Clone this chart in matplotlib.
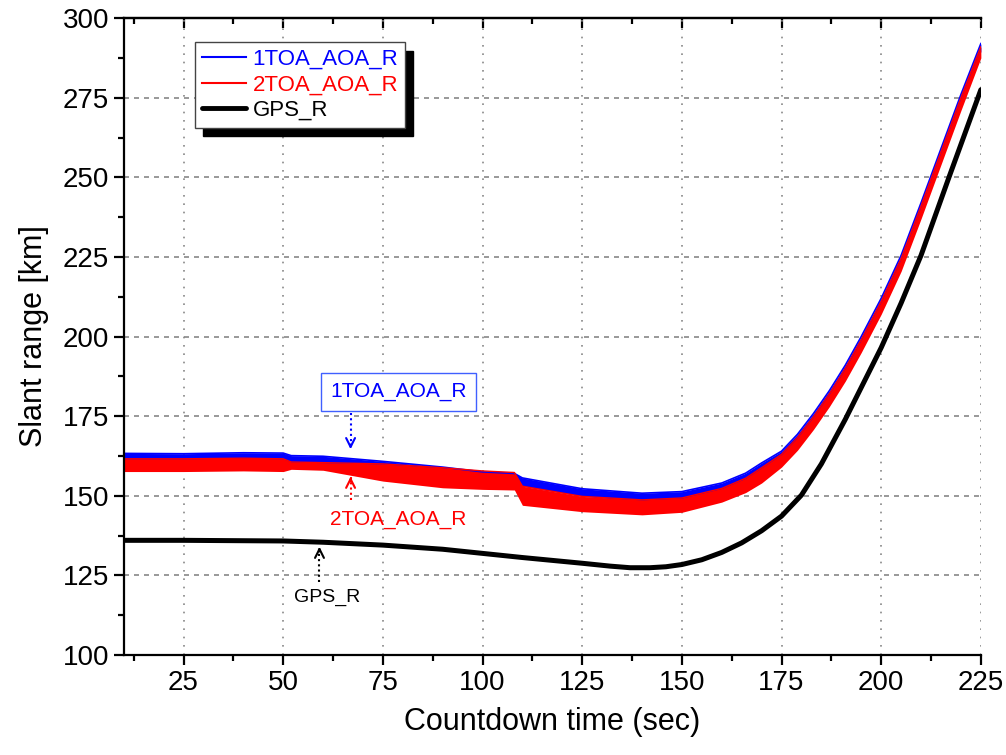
import matplotlib
matplotlib.use("Agg")
import matplotlib.pyplot as plt
from matplotlib.lines import Line2D
from matplotlib.ticker import MultipleLocator

plt.rcParams['font.family'] = ['Liberation Sans', 'DejaVu Sans']

# countdown time samples for the two TOA/AOA estimates
t_toa = [10, 25, 40, 50, 52, 60, 75, 90, 100, 108, 110, 125, 140, 150,
         160, 166, 170, 175, 179, 183, 187, 191, 195, 200, 205, 210, 215, 220, 225]
# 1TOA_AOA_R band (upper / lower edge of the noisy trace)
toa1_hi = [163.3, 163.2, 163.5, 163.4, 162.6, 162.4, 160.8, 159.0, 157.5, 157.0,
           155.6, 152.2, 150.8, 151.3, 154.0, 157.1, 160.3, 164.0, 169.3, 175.8,
           183.0, 191.0, 200.0, 212.0, 225.5, 242.0, 259.0, 276.0, 292.0]
toa1_lo = [160.5, 160.5, 160.8, 160.5, 160.0, 159.8, 158.3, 156.5, 155.5, 155.0,
           153.0, 149.8, 148.3, 148.8, 151.5, 154.6, 157.8, 161.5, 166.8, 173.3,
           180.5, 188.5, 197.5, 209.5, 223.0, 239.5, 256.5, 273.5, 289.5]
# 2TOA_AOA_R band
toa2_hi = [161.6, 161.6, 161.8, 161.6, 160.6, 160.4, 160.0, 158.8, 157.8, 157.3,
           153.0, 149.8, 148.7, 149.3, 152.3, 155.5, 158.8, 163.0, 168.3, 174.8,
           182.0, 190.0, 199.0, 211.0, 224.5, 241.0, 258.0, 275.0, 291.0]
toa2_lo = [157.6, 157.6, 157.8, 157.6, 158.3, 158.0, 154.6, 152.5, 152.0, 151.8,
           147.0, 145.0, 144.0, 144.8, 148.0, 151.0, 154.0, 159.0, 164.3, 170.8,
           178.0, 186.0, 195.0, 207.0, 220.5, 237.0, 254.0, 271.0, 287.5]

# GPS reference range
t_gps = [10, 25, 50, 60, 75, 90, 100, 110, 125, 132, 137, 142, 146, 150, 155,
         160, 165, 170, 175, 180, 185, 191, 195, 200, 205, 210, 217, 225]
gps_r = [136.0, 136.0, 135.8, 135.4, 134.5, 133.2, 131.9, 130.6, 128.8, 127.9,
         127.4, 127.4, 127.7, 128.4, 129.9, 132.2, 135.2, 139.0, 143.6, 150.2,
         160.0, 174.0, 184.0, 196.5, 210.5, 225.5, 250.0, 277.5]

blue = '#0000FF'
red = '#FF0000'

fig = plt.figure(figsize=(10.06, 7.55), dpi=100)
ax = fig.add_axes([0.123, 0.1325, 0.852, 0.8435])

ax.fill_between(t_toa, toa1_lo, toa1_hi, color=blue, lw=0)
ax.plot(t_toa, toa1_hi, color=blue, lw=1.2)
ax.fill_between(t_toa, toa2_lo, toa2_hi, color=red, lw=0)
ax.plot(t_toa, toa2_hi, color=red, lw=1.0)
ax.plot(t_gps, gps_r, color='black', lw=3.6, solid_capstyle='round')

ax.set_xlim(10, 225)
ax.set_ylim(100, 300)
ax.xaxis.set_major_locator(MultipleLocator(25))
ax.xaxis.set_minor_locator(MultipleLocator(12.5))
ax.yaxis.set_major_locator(MultipleLocator(25))
ax.yaxis.set_minor_locator(MultipleLocator(12.5))

ax.spines['right'].set_visible(False)
for s in ['left', 'bottom', 'top']:
    ax.spines[s].set_linewidth(1.6)
ax.tick_params(which='major', direction='out', length=7, width=1.6,
               labelsize=20, top=False, right=False)
ax.tick_params(which='minor', direction='out', length=4, width=1.6,
               top=False, right=False)

# inward ticks on the top edge
sec = ax.secondary_xaxis('top')
sec.xaxis.set_major_locator(MultipleLocator(25))
sec.xaxis.set_minor_locator(MultipleLocator(12.5))
sec.tick_params(which='major', direction='in', length=7, width=1.6, labeltop=False)
sec.tick_params(which='minor', direction='in', length=4, width=1.6)
sec.spines['top'].set_linewidth(1.6)

ax.xaxis.grid(True, color='#888888', linestyle=(0, (1, 4)), lw=1.2)
ax.yaxis.grid(True, color='#888888', linestyle=(0, (3, 3)), lw=1.2)
ax.set_axisbelow(True)

ax.set_xlabel('Countdown time (sec)', fontsize=22, labelpad=8)
ax.set_ylabel('Slant range [km]', fontsize=22, labelpad=10)

handles = [Line2D([], [], color=blue, lw=1.5),
           Line2D([], [], color=red, lw=1.5),
           Line2D([], [], color='black', lw=3.5, solid_capstyle='round')]
leg = ax.legend(handles, ['1TOA_AOA_R', '2TOA_AOA_R', 'GPS_R'],
                loc='upper left', bbox_to_anchor=(0.083, 0.962),
                fontsize=16, fancybox=False, framealpha=1,
                handlelength=2.0, handletextpad=0.3, borderpad=0.3,
                labelspacing=0.2, borderaxespad=0,
                shadow={'ox': 6, 'oy': -6, 'facecolor': 'black',
                        'edgecolor': 'black', 'alpha': 1})
leg.get_frame().set_edgecolor('#444444')
leg.get_frame().set_linewidth(1.0)
for txt, c in zip(leg.get_texts(), [blue, red, 'black']):
    txt.set_color(c)

# callouts
ax.text(78.9, 182.6, '1TOA_AOA_R', color=blue, fontsize=15, ha='center', va='center',
        bbox=dict(boxstyle='square,pad=0.45', fc='white', ec='#4060ff', lw=1.0))
ax.text(78.9, 142.4, '2TOA_AOA_R', color=red, fontsize=15, ha='center', va='center')
ax.text(61.1, 118.2, 'GPS_R', color='black', fontsize=14, ha='center', va='center')


def dotted_arrow(x, y0, y1, c):
    ax.plot([x, x], [y0, y1], color=c, lw=1.5, linestyle=(0, (1, 1.5)))
    step = 1.5 if y1 > y0 else -1.5
    ax.annotate('', xy=(x, y1), xytext=(x, y1 - step),
                arrowprops=dict(arrowstyle='->', color=c, lw=1.5,
                                mutation_scale=16, shrinkA=0, shrinkB=0))


dotted_arrow(66.9, 176.0, 164.6, blue)
dotted_arrow(66.9, 148.7, 156.0, red)
dotted_arrow(59.1, 122.9, 134.0, 'black')

fig.savefig('out.png', dpi=100)
